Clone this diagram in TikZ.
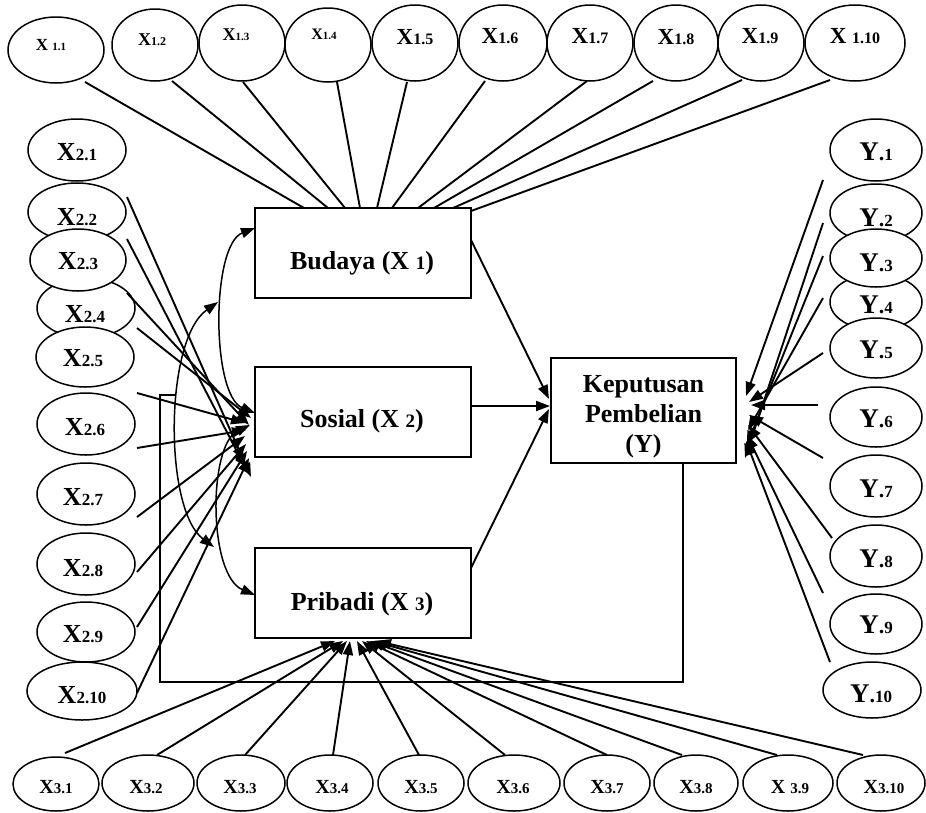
\documentclass[tikz,border=0pt]{standalone}
\usepackage{fontspec}
\setmainfont{Liberation Serif}
\usetikzlibrary{shapes.geometric,arrows.meta}
\newcommand\lbl[4]{{\fontsize{#1}{#1}\selectfont #3}{\fontsize{#2}{#2}\selectfont #4}}
\begin{document}
\begin{tikzpicture}[x=1pt,y=-1pt,line width=1.9pt,font=\bfseries,
  ind/.style={ellipse,draw,fill=white,inner sep=0pt,line width=1.5pt},
  cbox/.style={rectangle,draw,fill=white,inner sep=0pt,line width=1.5pt,minimum width=216pt,minimum height=90pt},
  arr/.style={-{Triangle[length=14pt,width=10pt]}},
  dbl/.style={{Triangle[length=14pt,width=10pt]}-{Triangle[length=14pt,width=10pt]}},
  txt/.style={anchor=base,inner sep=0pt}]
\useasboundingbox (0,0) rectangle (926,812);

% ---------- construct boxes ----------
\node[cbox] (bud) at (363,253) {};
\node[cbox] (sos) at (363,412) {};
\node[cbox] (pri) at (363,593) {};
\node[cbox,minimum width=185pt,minimum height=105pt] (kep) at (643.5,410.5) {};

\node[txt] (budt) at (362,269) {\fontsize{26}{30}\selectfont Budaya (X {\fontsize{19}{19}\selectfont 1})};
\node[txt] (sost) at (362,427) {\fontsize{26}{30}\selectfont Sosial (X {\fontsize{19}{19}\selectfont 2})};
\node[txt] (prit) at (362,610) {\fontsize{26}{30}\selectfont Pribadi (X {\fontsize{19}{19}\selectfont 3})};
\node[txt] (kept1) at (643.5,392) {\fontsize{26}{30}\selectfont Keputusan};
\node[txt] (kept2) at (643.5,422) {\fontsize{26}{30}\selectfont Pembelian};
\node[txt] (kept3) at (643.5,452) {\fontsize{26}{30}\selectfont (Y)};

% ---------- top indicators X1 ----------
\foreach \n/\cx/\cy/\w/\h in {x11/56/50/96/66, x12/155/45/86/72, x13/242/43/86/76,
  x14/328/45/86/74, x15/415/43/86/76, x16/503/43/88/76, x17/590/43/86/76,
  x18/676/43/84/76, x19/761/43/86/76, x110/855/43/100/76}
  \node[ind,minimum width=\w pt,minimum height=\h pt] (\n) at (\cx,\cy) {};
\node[txt] (x11t) at (51,50) {\lbl{17}{11}{X }{1.1}};
\node[txt] (x12t) at (152,45) {\lbl{18}{12}{X}{1.2}};
\node[txt] (x13t) at (236,40) {\lbl{18}{11}{X}{1.3}};
\node[txt] (x14t) at (324,39) {\lbl{16}{11}{X}{1.4}};
\node[txt] (x15t) at (415,44) {\lbl{23}{16}{X}{1.5}};
\node[txt] (x16t) at (500,43) {\lbl{23}{16}{X}{1.6}};
\node[txt] (x17t) at (590,43) {\lbl{23}{16}{X}{1.7}};
\node[txt] (x18t) at (676,44) {\lbl{23}{16}{X}{1.8}};
\node[txt] (x19t) at (760,43) {\lbl{23}{16}{X}{1.9}};
\node[txt] (x110t) at (855,43) {\lbl{23}{16}{X }{1.10}};

% ---------- left indicators X2 ----------
\foreach \n/\cx/\cy/\w/\h in {x21/77/150/98/62, x22/77/212/98/58, x24/86/308/98/60,
  x23/78/260/96/62, x25/85/357/98/60, x26/86/424/98/62, x27/86/494/98/62,
  x28/86/564/98/62, x29/86/632/98/60, x210/82/691/110/58}
  \node[ind,minimum width=\w pt,minimum height=\h pt] (\n) at (\cx,\cy) {};
\foreach \n/\lx/\ly/\s in {x21/77/160/2.1, x22/77/225/2.2, x23/78/269/2.3, x24/85/322/2.4,
  x25/83/366/2.5, x26/85/435/2.6, x27/83/505/2.7, x28/83/576/2.8, x29/83/642/2.9, x210/82/703/2.10}
  \node[txt] (\n t) at (\lx,\ly) {\lbl{26}{17}{X}{\s}};

% ---------- right indicators Y ----------
\foreach \n/\cx/\cy/\w/\h in {y1/876/150/92/62, y2/876/213/92/58, y4/876/302/92/56,
  y3/876/258/92/58, y5/876/348/92/60, y6/876/417/92/60, y7/876/486/92/62,
  y8/876/556/92/62, y9/876/624/92/60, y10/872/690/98/56}
  \node[ind,minimum width=\w pt,minimum height=\h pt] (\n) at (\cx,\cy) {};
\foreach \n/\lx/\ly/\s in {y1/876/160/1, y2/876/226/2, y3/876/271/3, y4/876/313/4,
  y5/876/358/5, y6/876/427/6, y7/876/497/7, y8/876/567/8, y9/876/633/9, y10/871/702/10}
  \node[txt] (\n t) at (\lx,\ly) {\lbl{27}{17}{Y}{{\fontsize{22}{22}\selectfont .}\s}};

% ---------- bottom indicators X3 ----------
\foreach \n/\cx/\cy/\w/\h in {x31/56/784/86/54, x32/148/783/92/56, x33/241/783/88/56,
  x34/330/783/86/56, x35/421/783/86/56, x36/514/783/92/56, x37/607/783/86/56,
  x38/696/783/84/56, x39/788/783/90/56, x310/881/783/88/56}
  \node[ind,minimum width=\w pt,minimum height=\h pt] (\n) at (\cx,\cy) {};
\foreach \n/\lx/\s in {x31/56/3.1, x32/146/3.2, x33/240/3.3, x34/332/3.4, x35/421/3.5,
  x36/513/3.6, x37/607/3.7, x38/696/3.8, x310/884/3.10}
  \node[txt] (\n t) at (\lx,793) {\lbl{20}{15}{X}{\s}};
\node[txt] (x39t) at (790,793) {\lbl{20}{15}{X }{3.9}};

% ---------- X1 loadings (plain lines) ----------
\foreach \i/\a/\b/\c/\d in {1/85/82/304/208, 2/172/81/328/208, 3/243/82/345/208,
  4/337/82/360/208, 5/407/82/377/208, 6/485/81/392/208, 7/587/81/418/208,
  8/653/81/434/208, 9/742/80/453/208, 10/830/80/471/211}
{ \coordinate (ta\i) at (\a,\b); \coordinate (tb\i) at (\c,\d); \draw (ta\i) -- (tb\i); }

% ---------- X2 arrows ----------
\foreach \i/\a/\b/\c/\d in {1/127/197/251/477, 2/127/239/245/467, 3/127/293/249/425,
  4/137/328/251/418, 5/137/393/245/423, 6/137/448/246/430, 7/137/517/245/436,
  8/137/572/246/444, 9/137/627/247/451, 10/137/693/249/458}
{ \coordinate (la\i) at (\a,\b); \coordinate (lb\i) at (\c,\d); \draw[arr] (la\i) -- (lb\i); }

% ---------- Y arrows ----------
\foreach \i/\a/\b/\c/\d in {1/823/180/746/396, 2/823/223/745/458, 3/823/256/747/445,
  4/823/298/748/430, 5/823/353/749/402, 6/818/405/751/405, 7/823/458/749/415,
  8/832/538/748/425, 9/823/593/747/435, 10/830/662/746/441}
{ \coordinate (ra\i) at (\a,\b); \coordinate (rb\i) at (\c,\d); \draw[arr] (ra\i) -- (rb\i); }

% ---------- X3 arrows ----------
\foreach \i/\a/\b/\c/\d in {1/65/753/335/641, 2/157/755/343/641, 3/245/755/347/641,
  4/333/755/350/641, 5/419/755/357/641, 6/505/755/362/641, 7/607/755/366/641,
  8/682/755/370/641, 9/777/755/373/641, 10/863/755/377/641}
{ \coordinate (ba\i) at (\a,\b); \coordinate (bb\i) at (\c,\d); \draw[arr] (ba\i) -- (bb\i); }

% ---------- structural paths ----------
\coordinate (bo) at (471,240);
\coordinate (so) at (471,406);
\coordinate (po) at (471,568);
\coordinate (k1) at (549,399);
\coordinate (k2) at (550,406);
\coordinate (k3) at (549,409);
\draw[arr] (bo) -- (k1);
\draw[arr] (so) -- (k2);
\draw[arr] (po) -- (k3);

% ---------- correlation arcs ----------
\coordinate (c1a) at (255,228);
\coordinate (c1b) at (255,413);
\draw[dbl,line width=1.5pt] (c1a) .. controls (211,245) and (211,395) .. (c1b);
\coordinate (c2a) at (218,302);
\coordinate (c2b) at (214,547);
\draw[dbl,line width=1.5pt] (c2a) .. controls (164,340) and (164,510) .. (c2b);
\coordinate (c3a) at (250,425);
\coordinate (c3b) at (255,595);
\draw[dbl,line width=1.5pt] (c3a) .. controls (208,445) and (208,575) .. (c3b);

% ---------- feedback line ----------
\coordinate (f0) at (683,463);
\coordinate (f1) at (683,682);
\coordinate (f2) at (160,682);
\coordinate (f3) at (160,395);
\coordinate (f4) at (175,395);
\draw[line width=1.5pt] (f0) -- (f1) -- (f2) -- (f3) -- (f4);
\end{tikzpicture}
\end{document}
